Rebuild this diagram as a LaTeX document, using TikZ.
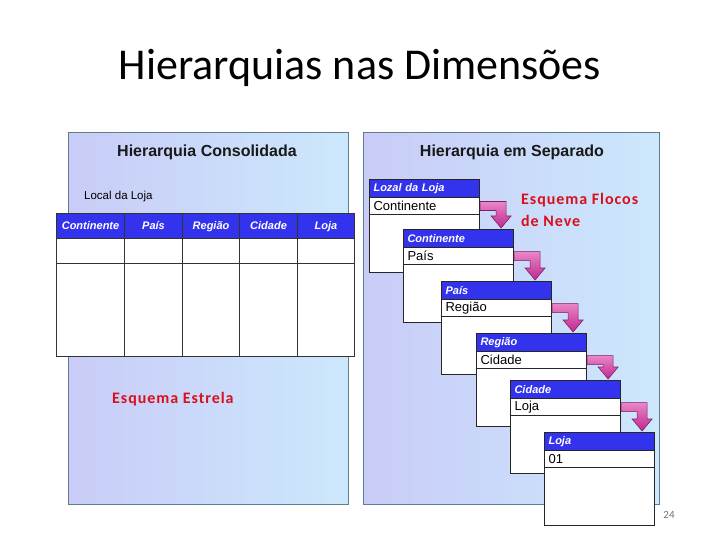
\documentclass[tikz,border=0pt]{standalone}
\usepackage{fontspec}
\setmainfont{Liberation Sans}
\newfontfamily\calibri{Carlito}
\newfontfamily\calibrisp[LetterSpace=6]{Carlito}
\usetikzlibrary{calc}
\definecolor{hdrblue}{HTML}{3333EE}
\definecolor{panelborder}{HTML}{5E7D8E}
\definecolor{panelL}{HTML}{C9CCF7}
\definecolor{panelR}{HTML}{CCE8FC}
\definecolor{redtxt}{HTML}{D8101C}
\definecolor{arrowL}{HTML}{EA86C8}
\definecolor{arrowD}{HTML}{BE2890}
\definecolor{arrowEdge}{HTML}{7E1E66}
\begin{document}
\begin{tikzpicture}[x=1pt,y=-1pt,
  panel/.style={draw=panelborder, line width=1.1pt, left color=panelL, right color=panelR, anchor=north west, inner sep=0pt},
  thead/.style={draw=black!80, line width=1.1pt, fill=hdrblue, text=white, anchor=north west, inner xsep=0pt, inner ysep=0pt,
     minimum height=25, text height=8.5pt, text depth=2.5pt, font=\fontsize{11}{12}\selectfont\bfseries\itshape},
  tcell/.style={draw=black!80, line width=1.1pt, fill=white, anchor=north west, inner sep=0pt},
  bhead/.style={draw=black!85, line width=1.1pt, fill=hdrblue, text=white, anchor=north west, inner xsep=4pt, inner ysep=0pt,
     text width=102pt, align=left, minimum height=18, font=\fontsize{11}{12}\selectfont\bfseries\itshape},
  brow/.style={draw=black!85, line width=1.1pt, fill=white, anchor=north west, inner xsep=4pt, inner ysep=0pt,
     text width=102pt, align=left, minimum height=17, font=\fontsize{13}{14}\selectfont},
  bbody/.style={draw=black!85, line width=1.1pt, fill=white, anchor=north west, inner sep=0pt, minimum width=110, minimum height=58},
  redlabel/.style={text=redtxt, font=\calibrisp\fontsize{16}{18}\selectfont\bfseries, anchor=base west, inner sep=0pt},
  ptitle/.style={font=\fontsize{16}{18}\selectfont\bfseries, text=black!90, anchor=base, inner sep=0pt},
  hierarrow/.style={draw=arrowEdge, line width=0.6pt, top color=arrowL, bottom color=arrowD}
]
\fill[white] (0,0) rectangle (720,540);
\useasboundingbox (0,0) rectangle (720,540);

% slide title
\node[font=\calibri\fontsize{44}{50}\selectfont, anchor=base, inner sep=0pt] (title) at (360,80) {Hierarquias nas Dimensões};

% ---------- left panel ----------
\node[panel, minimum width=280, minimum height=372] (lp) at (68,132) {};
\node[ptitle] (lptitle) at (207,157) {Hierarquia Consolidada};
\node[font=\fontsize{11.5}{13}\selectfont, anchor=base west, inner sep=0pt] (local) at (84,200) {Local da Loja};

\node[thead, minimum width=68] (c1) at (56,213) {Continente};
\node[thead, minimum width=58] (c2) at (124,213) {País};
\node[thead, minimum width=57] (c3) at (182,213) {Região};
\node[thead, minimum width=58] (c4) at (239,213) {Cidade};
\node[thead, minimum width=57] (c5) at (297,213) {Loja};

\node[tcell, minimum width=68, minimum height=25] (d1) at (56,238) {};
\node[tcell, minimum width=58, minimum height=25] (d2) at (124,238) {};
\node[tcell, minimum width=57, minimum height=25] (d3) at (182,238) {};
\node[tcell, minimum width=58, minimum height=25] (d4) at (239,238) {};
\node[tcell, minimum width=57, minimum height=25] (d5) at (297,238) {};

\node[tcell, minimum width=68, minimum height=93] (e1) at (56,263) {};
\node[tcell, minimum width=58, minimum height=93] (e2) at (124,263) {};
\node[tcell, minimum width=57, minimum height=93] (e3) at (182,263) {};
\node[tcell, minimum width=58, minimum height=93] (e4) at (239,263) {};
\node[tcell, minimum width=57, minimum height=93] (e5) at (297,263) {};

\node[redlabel] (estrela) at (112,403) {Esquema Estrela};

% ---------- right panel ----------
\node[panel, minimum width=296, minimum height=372] (rp) at (363,132) {};
\node[ptitle] (rptitle) at (512,157) {Hierarquia em Separado};

\node[redlabel] (flocos1) at (521,205) {Esquema Flocos};
\node[redlabel] (flocos2) at (521,226) {de Neve};

\foreach \i/\x/\y/\hd/\rw in {1/369/179/Lozal da Loja/Continente,
                              2/403/229/Continente/País,
                              3/441/281/País/Região,
                              4/476/333/Região/Cidade,
                              5/510/380/Cidade/Loja,
                              6/544/432/Loja/01} {
  \node[bhead] (h\i) at (\x,\y) {\hd};
  \node[brow] (r\i) at (\x,\y+18) {\rw};
  \node[bbody] (b\i) at (\x,\y+35) {};
}

\foreach \i/\j in {1/2,2/3,3/4,4/5,5/6} {
  \path (r\i.east) coordinate (s) (h\j.north) coordinate (t);
  \path[hierarrow] ($(s)+(0,-4.5)$) -- ($(s)+(26,-4.5)$) -- ($(s|-t)+(26,-13)$) -- ($(s|-t)+(31,-13)$)
     -- ($(s|-t)+(21,-1)$) -- ($(s|-t)+(11,-13)$) -- ($(s|-t)+(16,-13)$) -- ($(s)+(16,4.5)$)
     -- ($(s)+(0,4.5)$) -- cycle;
}

% page number
\node[font=\calibri\fontsize{11}{12}\selectfont, text=black!55, inner sep=0pt] (pnum) at (669,515) {24};
\end{tikzpicture}
\end{document}
